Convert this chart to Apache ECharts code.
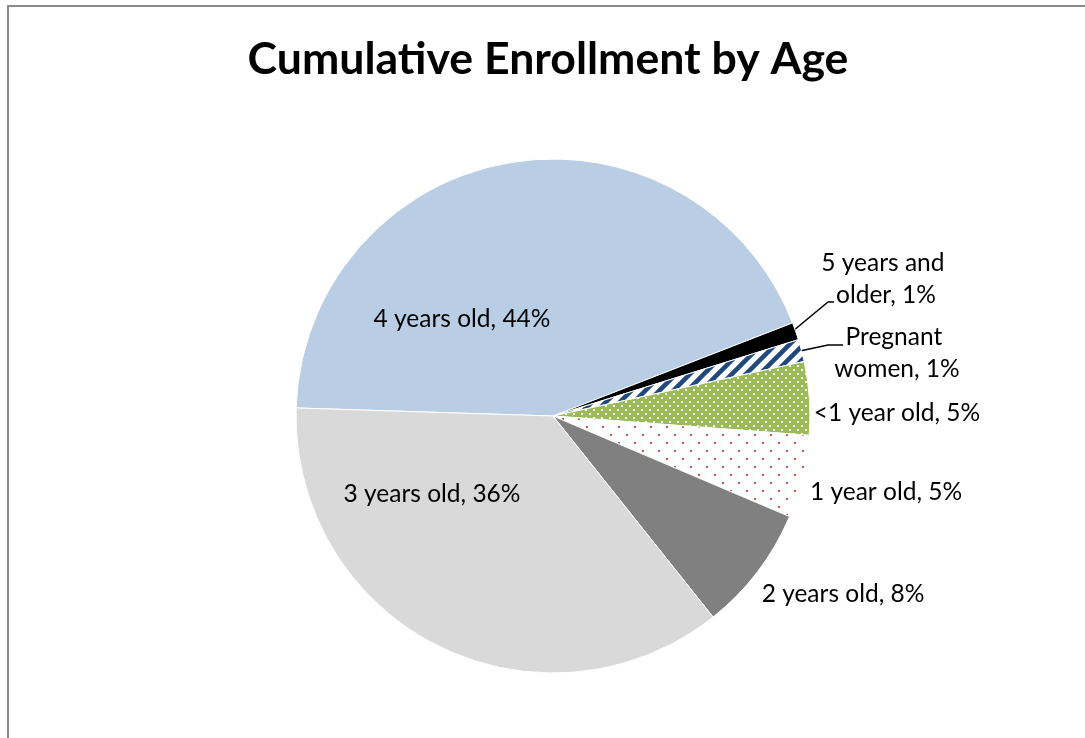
<!DOCTYPE html>
<html>
<head>
<meta charset="utf-8">
<script src="https://cdn.jsdelivr.net/npm/echarts@6/dist/echarts.min.js"></script>
<style>
html,body{margin:0;padding:0;background:#fff;}
#chart{width:1085px;height:738px;}
</style>
</head>
<body>
<div id="chart"></div>
<script>
// ---- data ----
const categories = ['4 years old', '5 years and older', 'Pregnant women', '<1 year old', '1 year old', '2 years old', '3 years old'];
const values = [43.6, 1.1, 1.4, 4.6, 5.2, 7.9, 36.2];
const titleText = 'Cumulative Enrollment by Age';

// ---- patterns ----
function makePattern(w, h, draw) {
  const c = document.createElement('canvas');
  c.width = w; c.height = h;
  const ctx = c.getContext('2d');
  draw(ctx, w, h);
  return { image: c, repeat: 'repeat' };
}
const greenDots = makePattern(8, 8, (ctx, w, h) => {
  ctx.fillStyle = '#9BBB59'; ctx.fillRect(0, 0, w, h);
  ctx.fillStyle = '#FFFFFF';
  ctx.fillRect(1, 1, 2, 2);
  ctx.fillRect(5, 5, 2, 2);
});
const redDots = makePattern(16, 16, (ctx, w, h) => {
  ctx.fillStyle = '#FFFFFF'; ctx.fillRect(0, 0, w, h);
  ctx.fillStyle = '#DC4C4C';
  ctx.fillRect(2, 2, 2, 2);
  ctx.fillRect(10, 10, 2, 2);
});
const stripes = makePattern(14, 14, (ctx, w, h) => {
  ctx.fillStyle = '#FFFFFF'; ctx.fillRect(0, 0, w, h);
  ctx.strokeStyle = '#1F497D';
  ctx.lineWidth = 4.5;
  ctx.beginPath();
  ctx.moveTo(-3, 17); ctx.lineTo(17, -3);
  ctx.moveTo(-3, 3); ctx.lineTo(3, -3);
  ctx.moveTo(11, 17); ctx.lineTo(17, 11);
  ctx.stroke();
});
const fills = ['#B9CDE5', '#000000', stripes, greenDots, redDots, '#808080', '#D9D9D9'];

// ---- label placement (layout/style) ----
const labelPos = {
  '4 years old': { x: 462, y: 319 },
  '5 years and older': { x: 886, y: 279, line: [[793, 331], [828, 302], [834, 302]] },
  'Pregnant women': { x: 897, y: 353, line: [[800, 351], [828, 345], [843, 345]] },
  '<1 year old': { x: 897, y: 413 },
  '1 year old': { x: 886, y: 492 },
  '2 years old': { x: 843, y: 594 },
  '3 years old': { x: 432, y: 494 }
};

const total = values.reduce((a, b) => a + b, 0);
const data = categories.map((name, i) => {
  const item = { name: name, value: values[i], itemStyle: { color: fills[i] } };
  if (labelPos[name].line) {
    item.labelLine = { show: true, lineStyle: { color: '#000', width: 1.5 } };
    item.label = { width: 145, overflow: 'break' };
  }
  return item;
});

const chart = echarts.init(document.getElementById('chart'), null, { renderer: 'canvas' });
chart.setOption({
  backgroundColor: '#ffffff',
  animation: false,
  title: {
    text: titleText,
    left: 543,
    top: 32,
    textAlign: 'center',
    textStyle: { fontFamily: 'Lato', fontWeight: 'bold', fontSize: 44.6, color: '#000' }
  },
  graphic: [{
    type: 'rect',
    shape: { x: 8, y: 6, width: 1200, height: 900 },
    style: { fill: 'none', stroke: '#8a8a8a', lineWidth: 2 },
    silent: true
  }],
  series: [{
    type: 'pie',
    center: [553, 416],
    radius: 257,
    startAngle: 178.2,
    clockwise: true,
    avoidLabelOverlap: false,
    emphasis: { disabled: true },
    itemStyle: { borderColor: '#ffffff', borderWidth: 1 },
    label: {
      show: true,
      position: 'outside',
      fontFamily: 'Lato',
      fontSize: 24.5,
      lineHeight: 32,
      color: '#000',
      align: 'center',
      formatter: p => p.name + ', ' + Math.round(p.value / total * 100) + '%'
    },
    labelLine: { show: false },
    labelLayout: function (params) {
      const name = categories[params.dataIndex];
      const pos = labelPos[name];
      const out = { x: pos.x, y: pos.y, align: 'center', verticalAlign: 'middle' };
      if (pos.line) out.labelLinePoints = pos.line;
      return out;
    },
    data: data
  }]
});
</script>
</body>
</html>
